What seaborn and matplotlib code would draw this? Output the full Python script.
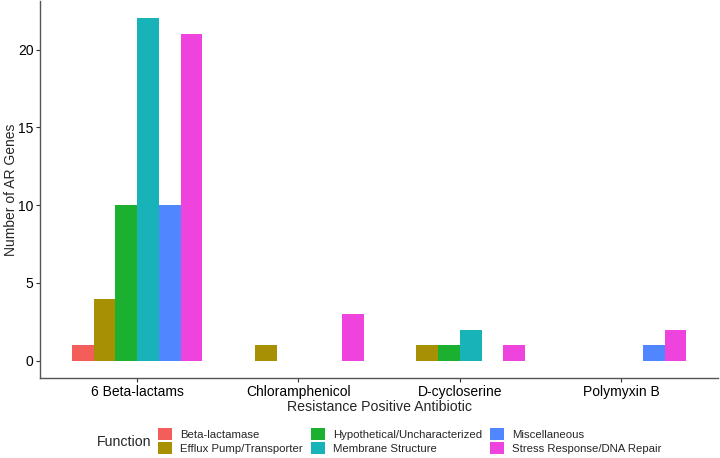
import matplotlib
matplotlib.use("Agg")
import matplotlib.pyplot as plt
from matplotlib.patches import Patch
import pandas as pd
import seaborn as sns

antibiotics = ["6 Beta-lactams", "Chloramphenicol", "D-cycloserine", "Polymyxin B"]
functions = ["Beta-lactamase", "Efflux Pump/Transporter", "Hypothetical/Uncharacterized",
             "Membrane Structure", "Miscellaneous", "Stress Response/DNA Repair"]
colors = ["#F35E5A", "#A89005", "#1BB02F", "#17B3B8", "#5086FF", "#EE44DD"]

# counts per antibiotic, in the order of `functions`
beta_lactams = [1, 4, 10, 22, 10, 21]
chloramphenicol = [0, 1, 0, 0, 0, 3]
d_cycloserine = [0, 1, 1, 2, 0, 1]
polymyxin_b = [0, 0, 0, 0, 1, 2]

rows = []
for ab, counts in zip(antibiotics, [beta_lactams, chloramphenicol, d_cycloserine, polymyxin_b]):
    for fn, n in zip(functions, counts):
        rows.append({"antibiotic": ab, "function": fn, "count": n})
df = pd.DataFrame(rows)

sns.set_theme(style="ticks")
plt.rcParams["font.family"] = ["Liberation Sans", "DejaVu Sans"]

fig = plt.figure(figsize=(7.2, 4.58), dpi=100)
ax = fig.add_axes([0.056, 0.175, 0.941, 0.822])
sns.barplot(data=df, x="antibiotic", y="count", hue="function", order=antibiotics,
            hue_order=functions, palette=colors, saturation=1, width=0.81,
            legend=False, ax=ax, linewidth=0)

ax.set_xlim(-0.6, 3.6)
ax.set_ylim(-1.1, 23.1)
ax.set_yticks([0, 5, 10, 15, 20])
ax.set_xlabel("Resistance Positive Antibiotic", fontsize=10.2, labelpad=1)
ax.set_ylabel("Number of AR Genes", fontsize=10)
ax.yaxis.set_label_coords(-0.033, 0.5)
ax.tick_params(axis="both", labelsize=10, color="#333333", length=3, width=0.8,
               labelcolor="black", pad=2)
for side in ["top", "right"]:
    ax.spines[side].set_visible(False)
for side in ["left", "bottom"]:
    ax.spines[side].set_color("#555555")
    ax.spines[side].set_linewidth(1.0)

handles = [Patch(facecolor=c, edgecolor="none", label=f) for f, c in zip(functions, colors)]
fig.legend(handles=handles, loc="center left", bbox_to_anchor=(0.212, 0.037), ncol=3,
           frameon=False, fontsize=8.2, handlelength=1.23, handleheight=1.23,
           handletextpad=0.7, columnspacing=0.7, labelspacing=0.12, borderpad=0)
fig.text(0.135, 0.035, "Function", fontsize=10.2, va="center", ha="left")

fig.savefig("out.png", dpi=100)
plt.close(fig)
